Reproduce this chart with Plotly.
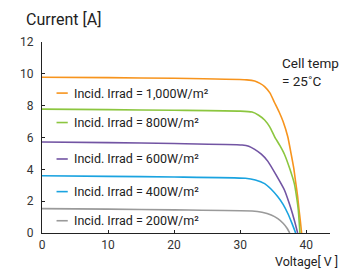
import plotly.graph_objects as go

FONT = "Roboto, Liberation Sans, sans-serif"

labels = ["Incid. Irrad = 1,000W/m²", "Incid. Irrad = 800W/m²", "Incid. Irrad = 600W/m²",
          "Incid. Irrad = 400W/m²", "Incid. Irrad = 200W/m²"]
colors = ["#f7941d", "#8cc63f", "#7254a3", "#1aa3e0", "#9a9a9a"]

v_1000 = [0, 10, 20, 31, 32.2, 33, 33.7, 34.5, 35.2, 35.9, 36.5, 37.2, 37.7, 38.1, 38.4, 38.7, 38.9, 39.1, 39.3]
i_1000 = [9.79, 9.76, 9.72, 9.62, 9.55, 9.4, 9.2, 8.8, 8.2, 7.6, 7.0, 6.06, 5.0, 4.1, 3.2, 2.3, 1.5, 0.8, 0]
v_800 = [0, 10, 20, 30, 31.8, 32.8, 33.7, 34.5, 35.2, 36, 36.7, 37.5, 38.2, 38.6, 38.8, 39.05]
i_800 = [7.78, 7.75, 7.71, 7.66, 7.6, 7.4, 7.1, 6.65, 6.06, 5.5, 4.95, 4.05, 3.1, 2.1, 1.45, 0]
v_600 = [0, 10, 20, 30.3, 31.3, 32.2, 33.2, 34.2, 35.5, 36.7, 37.4, 37.9, 38.3, 38.7]
i_600 = [5.72, 5.68, 5.62, 5.53, 5.45, 5.25, 4.95, 4.5, 3.6, 2.7, 1.9, 1.24, 0.65, 0]
v_400 = [0, 10, 20, 30.8, 32.3, 33.7, 34.7, 35.7, 36.5, 37.2, 37.8, 38.4]
i_400 = [3.6, 3.56, 3.52, 3.44, 3.33, 3.1, 2.75, 2.28, 1.8, 1.24, 0.65, 0]
v_200 = [0, 10, 20, 31.8, 33.3, 34.7, 35.7, 36.5, 37.1, 37.5]
i_200 = [1.53, 1.5, 1.45, 1.38, 1.3, 1.13, 0.9, 0.61, 0.3, 0]

series_v = [v_1000, v_800, v_600, v_400, v_200]
series_i = [i_1000, i_800, i_600, i_400, i_200]

legend_y = [8.79, 6.94, 4.65, 2.6, 0.77]

x_ticks = [0, 10, 20, 30, 40]
y_ticks = [0, 2, 4, 6, 8, 10, 12]

fig = go.Figure()
for v, i, c, name in zip(series_v, series_i, colors, labels):
    fig.add_trace(go.Scatter(x=v, y=i, mode="lines", name=name,
                             line=dict(color=c, width=1.6, shape="spline", smoothing=0.5),
                             showlegend=False, hoverinfo="skip"))

for ly, c, name in zip(legend_y, colors, labels):
    fig.add_shape(type="line", x0=2.2, x1=3.9, y0=ly, y1=ly, xref="x", yref="y",
                  line=dict(color=c, width=1.6))
    fig.add_annotation(x=4.5, y=ly, xref="x", yref="y", text=name, showarrow=False,
                       xanchor="left", yanchor="middle",
                       font=dict(family=FONT, size=12.5, color="#222"))

fig.add_annotation(text="Current [A]", xref="paper", yref="paper", x=-0.062, y=1.06,
                   xanchor="left", yanchor="bottom", showarrow=False,
                   font=dict(family=FONT, size=16, color="#222"))
fig.add_annotation(text="Cell temp.<br>= 25˚C", xref="paper", yref="paper", x=0.827, y=0.945,
                   xanchor="left", yanchor="top", showarrow=False, align="left",
                   font=dict(family=FONT, size=13.5, color="#222"))
fig.add_annotation(text="Voltage[ V ]", xref="paper", yref="paper", x=1.034, y=-0.147,
                   xanchor="right", yanchor="middle", showarrow=False,
                   font=dict(family=FONT, size=12.5, color="#222"))
fig.add_annotation(text="Voltage[ V ]", xref="paper", yref="paper", x=1.034, y=1.19,
                   xanchor="right", yanchor="bottom", showarrow=False,
                   font=dict(family=FONT, size=12.5, color="#222"))

fig.update_layout(
    width=339, height=262,
    margin=dict(l=28, r=17, t=34, b=37),
    paper_bgcolor="white", plot_bgcolor="white",
    font=dict(family=FONT, color="#222"),
)
fig.update_xaxes(range=[0, 43.6], tickvals=x_ticks, ticks="inside", ticklen=3,
                 showline=True, linecolor="#222", linewidth=1.3, tickcolor="#222",
                 showgrid=False, zeroline=False,
                 tickfont=dict(family=FONT, size=12, color="#333"))
fig.update_yaxes(range=[0, 12], tickvals=y_ticks, ticks="inside", ticklen=3,
                 showline=True, linecolor="#222", linewidth=1.3, tickcolor="#222",
                 showgrid=False, zeroline=False, ticklabelstandoff=5,
                 tickfont=dict(family=FONT, size=12, color="#333"))

fig.write_html("out.html")
